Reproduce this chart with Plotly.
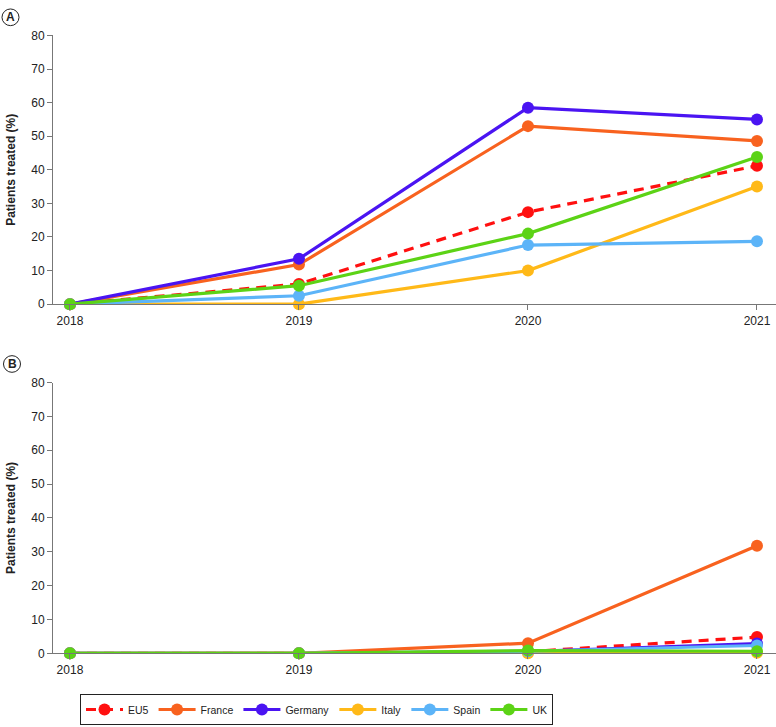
import plotly.graph_objects as go

years = [2018, 2019, 2020, 2021]
series = ["EU5", "France", "Germany", "Italy", "Spain", "UK"]
colors = {"EU5": "#FF1010", "France": "#F8621F", "Germany": "#4A14F2",
          "Italy": "#FFB918", "Spain": "#5CB4F8", "UK": "#5CD316"}

panel_a = {
    "EU5": [0, 6.0, 27.4, 41.2],
    "France": [0, 11.8, 53.0, 48.6],
    "Germany": [0, 13.5, 58.5, 55.0],
    "Italy": [0, 0, 10.0, 35.0],
    "Spain": [0, 2.5, 17.6, 18.7],
    "UK": [0, 5.5, 21.0, 43.8],
}
panel_b = {
    "EU5": [0, 0, 0.5, 4.8],
    "France": [0, 0, 3.0, 31.8],
    "Germany": [0, 0, 0.5, 2.9],
    "Italy": [0, 0, 0, 0.2],
    "Spain": [0, 0, 0.6, 2.3],
    "UK": [0, 0, 0.8, 0.6],
}
y_ticks = [0, 10, 20, 30, 40, 50, 60, 70, 80]
y_title = "Patients treated (%)"

W, H = 776, 727
ML = 53
PW = W - ML

def px_x(p):
    return (p - ML) / PW

def px_y(p):
    return (H - p) / H

fig = go.Figure()
for panel, data, xa, ya in [("A", panel_a, "x", "y"), ("B", panel_b, "x2", "y2")]:
    for s in series:
        fig.add_trace(go.Scatter(
            x=years, y=data[s], mode="lines+markers", name=s,
            legendgroup=s, showlegend=(panel == "B"),
            line=dict(color=colors[s], width=3.2,
                      dash="10px,7px" if s == "EU5" else "solid"),
            marker=dict(color=colors[s], size=12),
            xaxis=xa, yaxis=ya, cliponaxis=False,
        ))

font = "Liberation Sans, Arial, Helvetica, sans-serif"
xcommon = dict(range=[2017.926, 2021.083], tickvals=years, ticktext=[str(y) for y in years],
               showline=True, linecolor="#777", linewidth=1, ticks="outside", ticklen=5,
               tickcolor="#777", showgrid=False, zeroline=False,
               tickfont=dict(size=12, color="#222", family=font), domain=[0, 1])
ycommon = dict(range=[0, 80], tickvals=y_ticks, showline=True, linecolor="#777", linewidth=1,
               ticks="outside", ticklen=5, tickcolor="#777", showgrid=False, zeroline=False,
               tickfont=dict(size=12, color="#222", family=font))

fig.update_layout(
    width=W, height=H,
    margin=dict(l=ML, r=0, t=0, b=0),
    paper_bgcolor="white", plot_bgcolor="white",
    font=dict(family=font, size=12, color="#222"),
    xaxis=dict(**xcommon, anchor="y"),
    xaxis2=dict(**xcommon, anchor="y2"),
    yaxis=dict(**ycommon, domain=[px_y(303), px_y(29)], anchor="x"),
    yaxis2=dict(**ycommon, domain=[px_y(659), px_y(383)], anchor="x2"),
    legend=dict(orientation="h", x=px_x(80), y=px_y(700.5), xanchor="left", yanchor="top",
                bordercolor="#222", borderwidth=1, font=dict(size=10.5, family=font, color="#222"),
                itemwidth=37, tracegroupgap=0, traceorder="normal"),
    showlegend=True,
)

annotations = []
shapes = []
for lab, cx, cy in [("A", 10.5, 10.5), ("B", 12, 364)]:
    r = 8.5
    shapes.append(dict(type="circle", xref="paper", yref="paper",
                       x0=px_x(cx - r), x1=px_x(cx + r), y0=px_y(cy + r), y1=px_y(cy - r),
                       line=dict(color="#222", width=1)))
    annotations.append(dict(text="<b>%s</b>" % lab, xref="paper", yref="paper",
                            x=px_x(cx), y=px_y(cy), showarrow=False,
                            font=dict(size=12, family=font, color="#222"),
                            xanchor="center", yanchor="middle"))
for cy in [166, 521]:
    annotations.append(dict(text="<b>%s</b>" % y_title, xref="paper", yref="paper",
                            x=px_x(11), y=px_y(cy), showarrow=False, textangle=-90,
                            font=dict(size=12, family=font, color="#222"),
                            xanchor="center", yanchor="middle"))
fig.update_layout(annotations=annotations, shapes=shapes)

# remove the default page margin so the figure fills the window exactly
fig.write_html("out.html", config={"displayModeBar": False},
               post_script="document.body.style.margin='0';document.body.style.overflow='hidden';")
